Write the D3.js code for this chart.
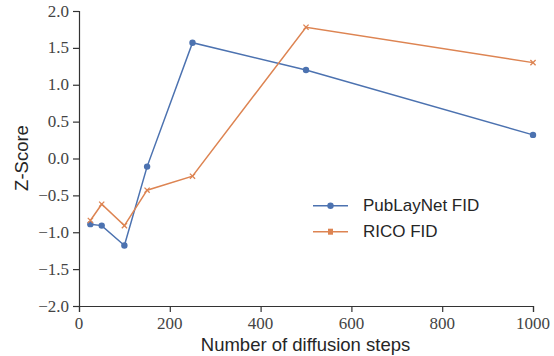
<!DOCTYPE html>
<html>
<head>
<meta charset="utf-8">
<script src="https://cdn.jsdelivr.net/npm/d3@7"></script>
<style>
  body { margin: 0; background: #fff; }
  svg text.tk { font-family: 'Liberation Serif', serif; font-size: 17px; fill: #444; }
</style>
</head>
<body>
<svg id="chart" width="554" height="356"></svg>
<script>
var steps = [25, 50, 100, 150, 250, 500, 1000]
var publaynet = [-0.89, -0.91, -1.18, -0.11, 1.57, 1.20, 0.32]
var rico = [-0.84, -0.62, -0.91, -0.43, -0.24, 1.78, 1.30]
var xTicks = [0, 200, 400, 600, 800, 1000]
var yTicks = [-2, -1.5, -1, -0.5, 0, 0.5, 1, 1.5, 2]

var blue = '#4C72B0'
var orange = '#DD8452'

var svg = d3.select('#chart')
var x = d3.scaleLinear().domain([0, 1000]).range([79, 533])
var y = d3.scaleLinear().domain([-2, 2]).range([306, 11])

var fmt = d => (d < 0 ? '\u2212' : '') + Math.abs(d).toFixed(1)

// axes: lines from d3, labels written separately
var xa = svg.append('g').attr('transform', 'translate(0,306)')
    .call(d3.axisBottom(x).tickValues(xTicks).tickSize(6).tickFormat(''))
var ya = svg.append('g').attr('transform', 'translate(79,0)')
    .call(d3.axisLeft(y).tickValues(yTicks).tickSize(6).tickFormat(''))
;[xa, ya].forEach(a => {
  a.select('.domain').attr('stroke', '#333').attr('stroke-width', 1.2)
  a.selectAll('.tick line').attr('stroke', '#333').attr('stroke-width', 1.2)
})

svg.selectAll('text.xt').data(xTicks).enter().append('text')
    .attr('class', 'tk')
    .attr('x', d => x(d)).attr('y', 329)
    .attr('text-anchor', 'middle')
    .text(d3.format('d'))
svg.selectAll('text.yt').data(yTicks).enter().append('text')
    .attr('class', 'tk')
    .attr('x', 69).attr('y', d => y(d) + 5.5)
    .attr('text-anchor', 'end')
    .text(fmt)

var line = d3.line().x(d => x(d[0])).y(d => y(d[1]))

function series (vals, color, marker) {
  var pts = steps.map((s, i) => [s, vals[i]])
  svg.append('path').datum(pts)
      .attr('d', line).attr('fill', 'none')
      .attr('stroke', color).attr('stroke-width', 1.5)
  drawMarkers(svg, pts.map(p => [x(p[0]), y(p[1])]), color, marker)
}

function drawMarkers (g, pts, color, marker) {
  pts.forEach(p => {
    if (marker === 'o') {
      g.append('circle').attr('cx', p[0]).attr('cy', p[1]).attr('r', 3.2).attr('fill', color)
    } else {
      var s = 2.6
      g.append('path')
          .attr('d', `M${p[0] - s},${p[1] - s}L${p[0] + s},${p[1] + s}M${p[0] - s},${p[1] + s}L${p[0] + s},${p[1] - s}`)
          .attr('stroke', color).attr('stroke-width', 1.3)
    }
  })
}

series(publaynet, blue, 'o')
series(rico, orange, 'x')

function label (t, size) {
  return t.attr('font-family', 'Liberation Sans').attr('font-size', size).attr('fill', '#262626')
}

// legend
var leg = [['PubLayNet FID', blue, 'o'], ['RICO FID', orange, 'x']]
leg.forEach((l, i) => {
  var ly = 205.7 + i * 26
  svg.append('line').attr('x1', 313).attr('x2', 348).attr('y1', ly).attr('y2', ly)
      .attr('stroke', l[1]).attr('stroke-width', 1.5)
  if (l[2] === 'o') drawMarkers(svg, [[330.5, ly]], l[1], 'o')
  else {
    svg.append('rect').attr('x', 328).attr('y', ly - 3).attr('width', 5).attr('height', 6).attr('fill', l[1])
  }
  label(svg.append('text').attr('x', 363).attr('y', ly + 5.5).text(l[0]), 17)
})

label(svg.append('text').attr('x', 305.5).attr('y', 350.5)
    .attr('text-anchor', 'middle').text('Number of diffusion steps'), 18.5)
label(svg.append('text')
    .attr('transform', 'translate(28,158) rotate(-90)')
    .attr('text-anchor', 'middle').text('Z-Score'), 18.5)
</script>
</body>
</html>
